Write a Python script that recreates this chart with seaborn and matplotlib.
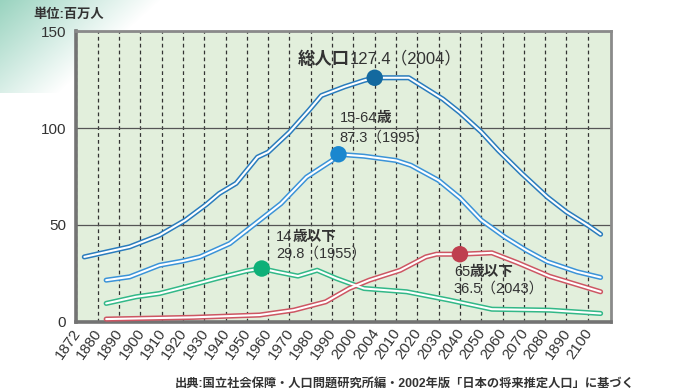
import numpy as np
import pandas as pd
import matplotlib
matplotlib.use('Agg')
import matplotlib.pyplot as plt
import matplotlib.transforms as mtransforms
import seaborn as sns

# x axis categories (the source chart prints "1890" where 2090 belongs)
TICK_LABELS = ['1872', '1880', '1890', '1900', '1910', '1920', '1930', '1940', '1950',
               '1960', '1970', '1980', '1990', '2000', '2004', '2010', '2020', '2030',
               '2040', '2050', '2060', '2070', '2080', '1890', '2100']
TICK_YEARS = [1872, 1880, 1890, 1900, 1910, 1920, 1930, 1940, 1950, 1960, 1970, 1980,
              1990, 2000, 2004, 2010, 2020, 2030, 2040, 2050, 2060, 2070, 2080, 2090, 2100]
Y_TICKS = [0, 50, 100, 150]

# population, millions
total_years = [1875, 1895, 1909, 1921, 1931, 1937, 1945, 1955, 1960, 1970, 1979, 1985,
               1996, 2002, 2004, 2016, 2032, 2040, 2050, 2058, 2069, 2081, 2090, 2100, 2106]
total_vals = [33.5, 38.7, 44.7, 52.4, 60.6, 66.2, 71.5, 85.0, 87.6, 97.9, 109.0, 116.8,
              121.4, 124.6, 126.0, 126.0, 115.0, 108.0, 98.0, 88.5, 76.6, 64.4, 56.7, 49.8, 45.2]

work_years = [1884, 1895, 1909, 1920, 1928, 1942, 1956, 1966, 1978, 1990, 1993, 2002, 2010,
              2017, 2030, 2040, 2050, 2061, 2071, 2081, 2095, 2106]
work_vals = [21.5, 23.2, 29.2, 31.4, 33.5, 40.4, 52.4, 61.0, 74.7, 83.3, 86.5, 85.5, 83.3,
             80.8, 73.0, 64.0, 52.5, 43.8, 37.0, 31.0, 25.8, 22.9]

young_years = [1884, 1898, 1909, 1921, 1936, 1950, 1957, 1964, 1974, 1983, 1992, 2002, 2015,
               2035, 2055, 2082, 2106]
young_vals = [9.5, 12.9, 14.6, 18.0, 22.4, 26.3, 27.5, 25.8, 23.6, 26.6, 22.4, 17.2, 15.5,
              11.2, 6.5, 6.0, 4.3]

old_years = [1884, 1925, 1956, 1972, 1987, 1998, 2003, 2012, 2024, 2029, 2040, 2055, 2067,
             2082, 2106]
old_vals = [1.4, 2.3, 3.5, 6.0, 10.3, 17.2, 21.5, 26.6, 33.5, 34.9, 34.9, 35.6, 30.5, 23.5, 15.5]

series_names = ['総人口', '15-64歳', '14歳以下', '65歳以上']
peak_years = [2004, 1993, 1957, 2040]
peak_vals = [126.0, 86.5, 27.5, 34.9]

line_colors = ['#2a7cbd', '#3b93d8', '#32b888', '#cd5663']
dot_colors = ['#13699f', '#1a87cf', '#0eb078', '#bf3f4f']


def year_to_pos(years):
    years = np.asarray(years, dtype=float)
    pos = np.interp(years, TICK_YEARS, np.arange(len(TICK_YEARS)))
    # the curves run a little past the last label
    return np.where(years > TICK_YEARS[-1],
                    len(TICK_YEARS) - 1 + (years - TICK_YEARS[-1]) / 10, pos)


frames = []
for name, yrs, vals in zip(series_names,
                           [total_years, work_years, young_years, old_years],
                           [total_vals, work_vals, young_vals, old_vals]):
    frames.append(pd.DataFrame({'series': name, 'year': yrs, 'value': vals}))
df = pd.concat(frames, ignore_index=True)
df['pos'] = year_to_pos(df['year'])

peaks = pd.DataFrame({'series': series_names, 'year': peak_years, 'value': peak_vals})
peaks['pos'] = year_to_pos(peaks['year'])

sns.set_theme(style='white')
plt.rcParams['font.family'] = ['Liberation Sans', 'Noto Sans CJK JP', 'DejaVu Sans']
TXT = '#333333'

fig = plt.figure(figsize=(6.84, 3.91), dpi=100)

# teal corner wash at top-left of the page
bg = fig.add_axes([0, 0, 1, 1], zorder=-5)
h, w = 391, 684
yy, xx = np.mgrid[0:h, 0:w]
alpha = np.clip(1 - (xx + 1.1 * yy) / 160.0, 0, 1) * (yy < 93)
img = np.ones((h, w, 4))
img[..., 0], img[..., 1], img[..., 2] = 0.60, 0.83, 0.75
img[..., 3] = alpha
bg.imshow(img, aspect='auto', extent=(0, 1, 0, 1), origin='upper')
bg.axis('off')

ax = fig.add_axes([0.111, 0.177, 0.782, 0.743])
ax.set_facecolor('#e2efdc')

# double-stroke curves: coloured outline with a white core
for i, name in enumerate(series_names):
    d = df[df['series'] == name]
    sns.lineplot(data=d, x='pos', y='value', sort=False, estimator=None, ax=ax,
                 color=line_colors[i], lw=3.7, solid_capstyle='round',
                 solid_joinstyle='round', zorder=3)
    sns.lineplot(data=d, x='pos', y='value', sort=False, estimator=None, ax=ax,
                 color='white', lw=1.5, solid_capstyle='round',
                 solid_joinstyle='round', zorder=4)

sns.scatterplot(data=peaks, x='pos', y='value', hue='series', palette=dot_colors,
                s=140, edgecolor='none', legend=False, ax=ax, zorder=5)

ax.set_xlim(-0.02, 25.08)
ax.set_ylim(0, 150)
ax.set_xticks(range(len(TICK_LABELS)))
ax.set_xticklabels(TICK_LABELS, rotation=55, ha='right', fontsize=10.8, color=TXT)
ax.set_yticks(Y_TICKS)
ax.set_yticklabels([str(v) for v in Y_TICKS], fontsize=11, color=TXT)
ax.tick_params(length=0)
ax.tick_params(axis='y', pad=7)
ax.tick_params(axis='x', pad=3)
shift = mtransforms.ScaledTranslation(7 / 100, 0, fig.dpi_scale_trans)
for lab in ax.get_xticklabels():
    lab.set_transform(lab.get_transform() + shift)

ax.set_axisbelow(True)
ax.xaxis.grid(True, ls=(0, (3, 2.5)), color='#333333', lw=0.9)
ax.yaxis.grid(True, ls='-', color='#555555', lw=0.9)
ax.set_xlabel('')
ax.set_ylabel('')
for side in ['left', 'bottom']:
    ax.spines[side].set_color('#737373')
    ax.spines[side].set_linewidth(2.6)
for side in ['top', 'right']:
    ax.spines[side].set_color('#8a8a8a')
    ax.spines[side].set_linewidth(2.0)

# annotations: bold label part chained to the regular number part
t = ax.text(10.38, 135.9, '総人口', fontsize=12.5, fontweight='bold', color=TXT,
            va='center', ha='left', zorder=6)
ax.annotate('127.4（2004）', xy=(1, 0.5), xycoords=t, va='center', ha='left',
            fontsize=12, color=TXT, zorder=6)

t = ax.text(12.35, 105, '15-64', fontsize=10.5, color=TXT, va='center', ha='left', zorder=6)
ax.annotate('歳', xy=(1, 0.5), xycoords=t, va='center', ha='left', fontsize=10.5,
            fontweight='bold', color=TXT, zorder=6)
ax.text(12.35, 95.2, '87.3（1995）', fontsize=10.5, color=TXT, va='center', ha='left', zorder=6)

t = ax.text(9.38, 43.8, '14', fontsize=10.5, color=TXT, va='center', ha='left', zorder=6)
ax.annotate('歳以下', xy=(1, 0.5), xycoords=t, va='center', ha='left', fontsize=10.5,
            fontweight='bold', color=TXT, zorder=6)
ax.text(9.38, 35.3, '29.8（1955）', fontsize=10.5, color=TXT, va='center', ha='left', zorder=6)

t = ax.text(17.71, 25.8, '65', fontsize=10.5, color=TXT, va='center', ha='left', zorder=6)
ax.annotate('歳以下', xy=(1, 0.5), xycoords=t, va='center', ha='left', fontsize=10.5,
            fontweight='bold', color=TXT, zorder=6)
ax.text(17.71, 16.9, '36.5（2043）', fontsize=10.5, color=TXT, va='center', ha='left', zorder=6)

fig.text(33 / 684, 1 - 15 / 391, '単位:百万人', fontsize=9.5, fontweight='bold',
         color=TXT, va='center', ha='left')
fig.text(175 / 684, 1 - 384 / 391,
         '出典:国立社会保障・人口問題研究所編・2002年版「日本の将来推定人口」に基づく',
         fontsize=8.8, fontweight='bold', color=TXT, va='center', ha='left')

fig.savefig('out.png', dpi=100)
